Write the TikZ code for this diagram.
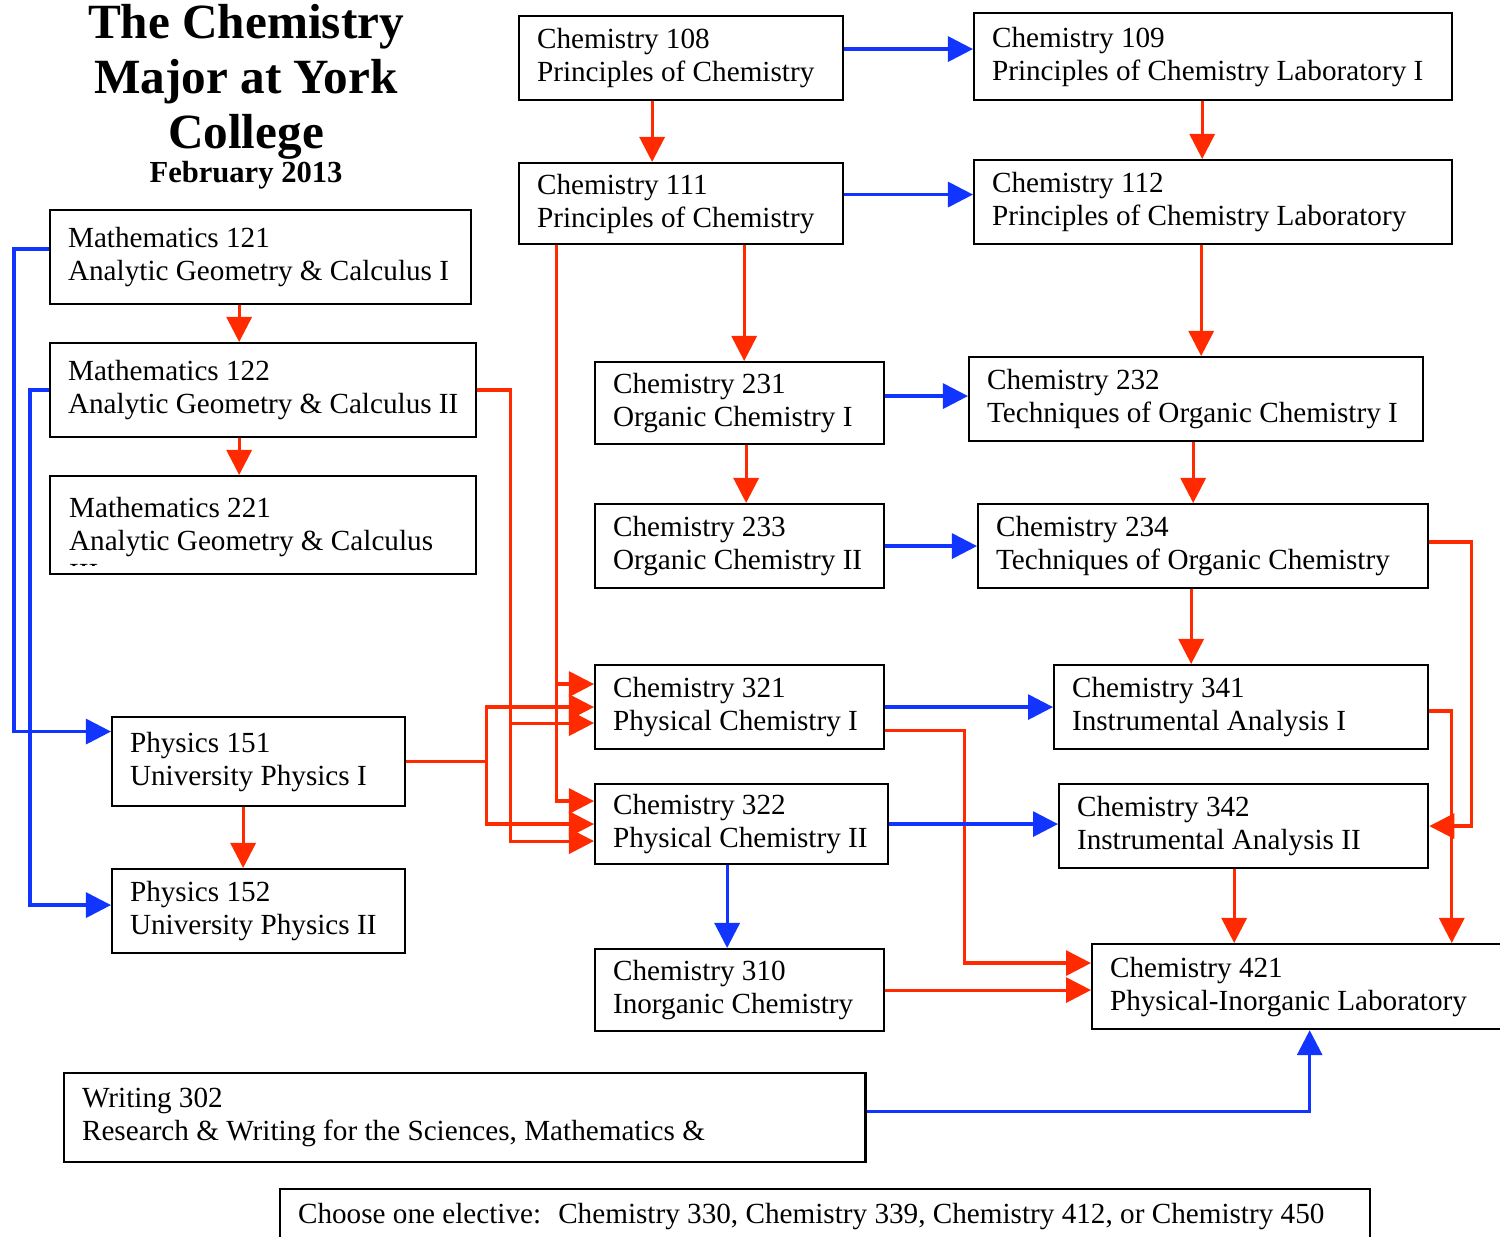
\documentclass[tikz,border=0pt]{standalone}
\usepackage{fontspec}
\setmainfont{Liberation Serif}
\usetikzlibrary{arrows.meta}

\definecolor{reqred}{RGB}{255,42,0}
\definecolor{coblue}{RGB}{18,52,255}

\tikzset{
  course/.style={draw, line width=0.6pt, anchor=north west, align=flush left,
    inner xsep=0.18cm, inner ysep=0.04cm, font=\fontsize{8.3}{9.4}\selectfont},
  heading/.style={font=\fontsize{14}{15.6}\selectfont\bfseries, align=center, inner sep=0},
  req/.style={draw=reqred, line width=0.9pt, -{Triangle[length=0.25cm,width=0.25cm]}},
  co/.style={draw=coblue, line width=0.9pt, -{Triangle[length=0.25cm,width=0.25cm]}},
}

\begin{document}
\begin{tikzpicture}[x=0.01cm, y=-0.01cm]
        \useasboundingbox (0,0) rectangle (1500,1237);

        \node[heading, anchor=north] (title) at (246,4) {The Chemistry\\Major at York\\College};
        \node[font=\fontsize{8.7}{10}\selectfont\bfseries, anchor=base, inner sep=0] (date) at (246,183) {February 2013};

        \node[course, text width=2.88cm, minimum height=0.84cm] (c108) at (518,15) {Chemistry 108\\Principles of Chemistry};
        \node[course, text width=4.42cm, minimum height=0.87cm] (c109) at (973,12) {Chemistry 109\\Principles of Chemistry Laboratory I};
        \node[course, text width=2.88cm, minimum height=0.81cm] (c111) at (518,162) {Chemistry 111\\Principles of Chemistry};
        \node[course, text width=4.42cm, minimum height=0.84cm] (c112) at (973,159) {Chemistry 112\\Principles of Chemistry Laboratory};

        \node[course, text width=3.85cm, minimum height=0.94cm] (m121) at (49,209) {Mathematics 121\\Analytic Geometry \& Calculus I};
        \node[course, text width=3.90cm, minimum height=0.94cm] (m122) at (49,342) {Mathematics 122\\Analytic Geometry \& Calculus II};
        \node[course, text width=3.90cm, minimum height=0.98cm,
          path picture={\clip (path picture bounding box.north west) rectangle ([yshift=0.09cm]path picture bounding box.south east);
            \node[anchor=north west, align=flush left, inner sep=0, font=\fontsize{8.3}{9.4}\selectfont]
              at ([xshift=0.18cm, yshift=-0.14cm]path picture bounding box.north west) {Mathematics 221\\Analytic Geometry \& Calculus\\III};}] (m221) at (49,475) {};

        \node[course, text width=2.53cm, minimum height=0.82cm] (c231) at (594,361) {Chemistry 231\\Organic Chemistry I};
        \node[course, text width=4.18cm, minimum height=0.84cm] (c232) at (968,356) {Chemistry 232\\Techniques of Organic Chemistry I};
        \node[course, text width=2.53cm, minimum height=0.84cm] (c233) at (594,503) {Chemistry 233\\Organic Chemistry II};
        \node[course, text width=4.14cm, minimum height=0.84cm] (c234) at (977,503) {Chemistry 234\\Techniques of Organic Chemistry};

        \node[course, text width=2.53cm, minimum height=0.84cm] (c321) at (594,664) {Chemistry 321\\Physical Chemistry I};
        \node[course, text width=3.38cm, minimum height=0.84cm] (c341) at (1053,664) {Chemistry 341\\Instrumental Analysis I};
        \node[course, text width=2.57cm, minimum height=0.89cm] (p151) at (111,716) {Physics 151\\University Physics I};
        \node[course, text width=2.57cm, minimum height=0.80cm] (c322) at (594,783) {Chemistry 322\\Physical Chemistry II};
        \node[course, text width=3.33cm, minimum height=0.84cm] (c342) at (1058,783) {Chemistry 342\\Instrumental Analysis II};
        \node[course, text width=2.57cm, minimum height=0.84cm] (p152) at (111,868) {Physics 152\\University Physics II};
        \node[course, text width=2.53cm, minimum height=0.82cm] (c310) at (594,948) {Chemistry 310\\Inorganic Chemistry};
        \node[course, text width=3.83cm, minimum height=0.85cm] (c421) at (1091,943) {Chemistry 421\\Physical-Inorganic Laboratory};

        \node[course, text width=7.65cm, minimum height=0.89cm] (w302) at (63,1072) {Writing 302\\Research \& Writing for the Sciences, Mathematics \&};
        \node[course, text width=10.53cm, minimum height=0.55cm] (elec) at (279,1188) {Choose one elective:~ Chemistry 330, Chemistry 339, Chemistry 412, or Chemistry 450};

        \draw[co] ([yshift=0.09cm]c108.east) -- ([yshift=0.09cm]c108.east -| c109.west);
        \draw[req] ([xshift=-0.29cm]c108.south) -- ([xshift=-0.29cm]c108.south |- c111.north);
        \draw[req] ([xshift=-0.11cm]c109.south) -- ([xshift=-0.11cm]c109.south |- c112.north);
        \draw[co] ([yshift=0.09cm]c111.east) -- ([yshift=0.09cm]c111.east -| c112.west);
        \draw[req] ([xshift=0.63cm]c111.south) -- ([xshift=0.63cm]c111.south |- c231.north);
        \draw[req] ([xshift=-0.12cm]c112.south) -- ([xshift=-0.12cm]c112.south |- c232.north);
        \draw[co] ([yshift=0.07cm]c231.east) -- ([yshift=0.07cm]c231.east -| c232.west);
        \draw[req] ([xshift=0.065cm]c231.south) -- ([xshift=0.065cm]c231.south |- c233.north);
        \draw[req] ([xshift=-0.03cm]c232.south) -- ([xshift=-0.03cm]c232.south |- c234.north);
        \draw[co] (c233.east) -- (c233.east -| c234.west);
        \draw[req] ([xshift=-0.12cm]c234.south) -- ([xshift=-0.12cm]c234.south |- c341.north);
        \draw[req] ([yshift=0.04cm]c234.east) -- ++(42,0) |- (c342.east);
        \draw[co] (c321.east) -- (c321.east -| c341.west);
        \draw[req] ([yshift=-0.23cm]c321.east) -- ++(79,0) |- ([yshift=0.235cm]c421.west);
        \draw[req] ([yshift=-0.04cm]c341.east) -| ([xshift=1.5cm]c421.north);
        \draw[co] (c322.east) -- (c322.east -| c342.west);
        \draw[req] ([xshift=-0.095cm]c342.south) -- ([xshift=-0.095cm]c342.south |- c421.north);
        \draw[co] ([xshift=-0.145cm]c322.south) -- ([xshift=-0.145cm]c322.south |- c310.north);
        \draw[req] (c310.east) -- (c310.east -| c421.west);
        \draw[co] ([yshift=0.06cm]w302.east) -| ([xshift=0.08cm]c421.south);

        \draw[req] ([xshift=-0.215cm]m121.south) -- ([xshift=-0.215cm]m121.south |- m122.north);
        \draw[req] ([xshift=-0.24cm]m122.south) -- ([xshift=-0.24cm]m122.south |- m221.north);
        \draw[req] ([xshift=-0.155cm]p151.south) -- ([xshift=-0.155cm]p151.south |- p152.north);
        \draw[co] ([yshift=0.08cm]m121.west) -- ++(-35,0) |- ([yshift=0.3cm]p151.west);
        \draw[co] (m122.west) -- ++(-19,0) |- ([yshift=0.06cm]p152.west);

        \draw[req] (m122.east) -- ++(33,0) coordinate (mj) |- ([yshift=-0.17cm]c322.west);
        \draw[req] ([yshift=-0.16cm]c321.west -| mj) -- ([yshift=-0.16cm]c321.west);
        \draw[req] ([xshift=-1.25cm]c111.south) coordinate (cj) |- ([yshift=0.23cm]c322.west);
        \draw[req] ([yshift=0.23cm]c321.west -| cj) -- ([yshift=0.23cm]c321.west);
        \draw[req] (p151.east) -- ++(80,0) coordinate (pj) |- (c321.west);
        \draw[req] (pj) |- (c322.west);
    \end{tikzpicture}
\end{document}
